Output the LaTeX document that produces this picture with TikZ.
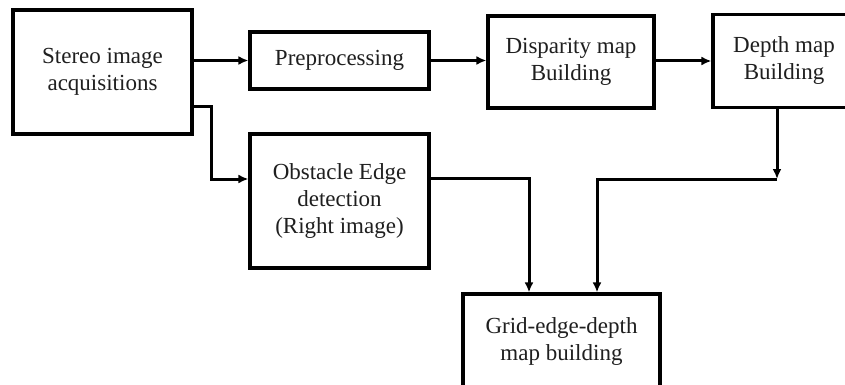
\documentclass[tikz,border=0pt]{standalone}
\usepackage{fontspec}
\setmainfont{Liberation Serif}
\usetikzlibrary{arrows.meta}
\begin{document}
\begin{tikzpicture}[x=1pt,y=-1pt,
  blockbox/.style={draw=black, line width=3.2pt, fill=white, inner sep=0pt,
    align=center, text=black!88, font=\fontsize{23}{27}\selectfont},
  conn/.style={draw=black, line width=3pt, -{Latex[length=10pt,width=9pt]}}]
\clip (0,0) rectangle (845,385);
\fill[white] (0,0) rectangle (845,385);
\node[blockbox, minimum width=179pt, minimum height=124pt] (st) at (102.5,72) {Stereo image\\acquisitions};
\node[blockbox, minimum width=179pt, minimum height=57pt] (pre) at (339.5,60.5) {Preprocessing};
\node[blockbox, minimum width=166pt, minimum height=92pt] (dis) at (571,62) {Disparity map\\Building};
\node[blockbox, minimum width=142pt, minimum height=93pt] (dep) at (784,61) {Depth map\\Building};
\node[blockbox, minimum width=179pt, minimum height=134pt] (obs) at (339.5,201) {Obstacle Edge\\detection\\(Right image)};
\node[blockbox, minimum width=197pt, minimum height=94pt] (grid) at (561.5,341) {Grid-edge-depth\\map building};
\coordinate (c1) at (211,107);
\coordinate (c2) at (211,179);
\coordinate (c3) at (529,178);
\coordinate (c4) at (777,179);
\coordinate (c5) at (597,179);
\draw[conn] (st.east |- pre.west) -- (pre.west);
\draw[conn] (pre.east) -- (pre.east -| dis.west);
\draw[conn] (dis.east |- dep.west) -- (dep.west);
\draw[conn] (st.east |- c1) -- (c1) -- (c2) -- (obs.west |- c2);
\draw[conn] (obs.east |- c3) -- (c3) -- (c3 |- grid.north);
\draw[conn] (dep.south -| c4) -- (c4);
\draw[conn] (c4) -- (c5) -- (c5 |- grid.north);
\end{tikzpicture}
\end{document}
